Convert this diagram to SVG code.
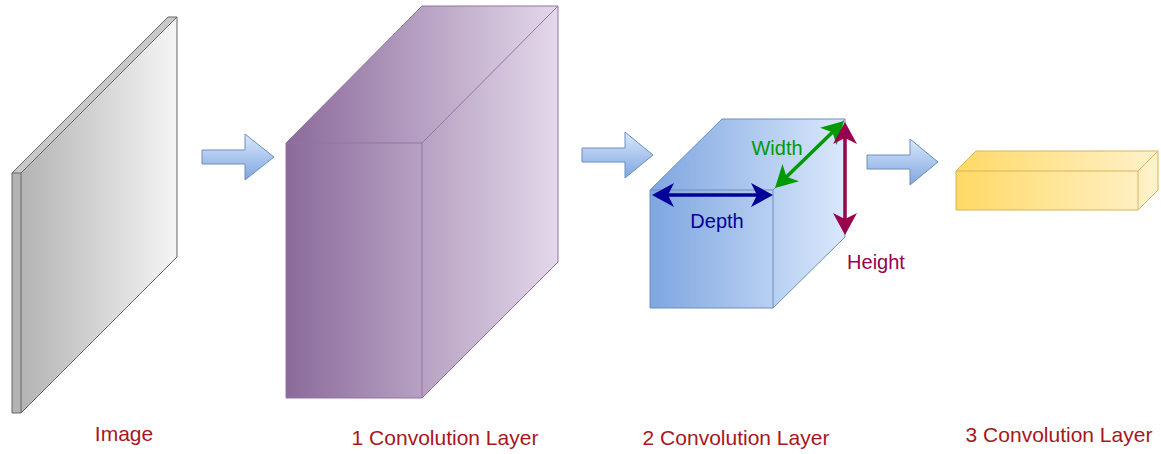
<svg xmlns="http://www.w3.org/2000/svg" width="1161" height="454" viewBox="0 0 1161 454">
  <style>
    .label { font-family: "Liberation Sans", Arial, sans-serif; font-size: 21px; fill: #a8161d; text-anchor: middle; }
    .dim { font-family: "Liberation Sans", Arial, sans-serif; font-size: 20px; text-anchor: middle; }
    .edge { fill: none; stroke-linejoin: round; }
    .flow { stroke: #6c8ebf; stroke-width: 1; fill: url(#flowFill); }
    .measure { fill: none; stroke-width: 3.5; }
  </style>
  <defs>
    <linearGradient id="grayFill" gradientUnits="userSpaceOnUse" x1="12" y1="0" x2="177" y2="0">
      <stop offset="0" stop-color="#b0b0b0"/>
      <stop offset="1" stop-color="#f5f5f5"/>
    </linearGradient>
    <linearGradient id="purpleFill" gradientUnits="userSpaceOnUse" x1="286" y1="0" x2="558" y2="0">
      <stop offset="0" stop-color="#8a6a9a"/>
      <stop offset="1" stop-color="#e3d8ea"/>
    </linearGradient>
    <linearGradient id="blueFill" gradientUnits="userSpaceOnUse" x1="650" y1="0" x2="845" y2="0">
      <stop offset="0" stop-color="#7ea6e0"/>
      <stop offset="1" stop-color="#dae8fc"/>
    </linearGradient>
    <linearGradient id="yellowFill" gradientUnits="userSpaceOnUse" x1="956" y1="0" x2="1158" y2="0">
      <stop offset="0" stop-color="#ffd966"/>
      <stop offset="1" stop-color="#fff2cc"/>
    </linearGradient>
    <linearGradient id="flowFill" x1="0" y1="0" x2="0" y2="1">
      <stop offset="0" stop-color="#dae8fc"/>
      <stop offset="1" stop-color="#7ea6e0"/>
    </linearGradient>
    <!-- classic open-notched arrowheads for the dimension lines -->
    <marker id="headNavy" viewBox="0 0 22 24" refX="17" refY="12" markerWidth="22" markerHeight="24" markerUnits="userSpaceOnUse" orient="auto-start-reverse">
      <path d="M0,0 L22,12 L0,24 L6,12 Z" fill="#000099"/>
    </marker>
    <marker id="headGreen" viewBox="0 0 22 24" refX="17" refY="12" markerWidth="22" markerHeight="24" markerUnits="userSpaceOnUse" orient="auto-start-reverse">
      <path d="M0,0 L22,12 L0,24 L6,12 Z" fill="#009900"/>
    </marker>
    <marker id="headMaroon" viewBox="0 0 22 24" refX="17" refY="12" markerWidth="22" markerHeight="24" markerUnits="userSpaceOnUse" orient="auto-start-reverse">
      <path d="M0,0 L22,12 L0,24 L6,12 Z" fill="#99004d"/>
    </marker>
  </defs>

  <rect width="1161" height="454" fill="#ffffff"/>

  <!-- input image slab -->
  <g id="image">
    <polygon points="12,173 168,17 177,17 177,257 21,413 12,413" fill="url(#grayFill)"/>
    <polygon points="12,173 21,173 21,413 12,413" fill="#b3b3b3"/>
    <polygon points="12,173 168,17 177,17 21,173" fill="#c9c9c9"/>
    <polygon points="12,173 168,17 177,17 177,257 21,413 12,413" class="edge" stroke="#666666" stroke-width="1"/>
    <polyline points="12,173 21,173 177,17" class="edge" stroke="#666666" stroke-width="1"/>
    <line x1="21" y1="173" x2="21" y2="413" stroke="#666666" stroke-width="1"/>
    <text class="label" x="124" y="441">Image</text>
  </g>

  <!-- first convolution volume -->
  <g id="conv1">
    <polygon points="286,143 422,6 558,6 558,262 422,398 286,398" fill="url(#purpleFill)" stroke="#9673a6" stroke-width="1"/>
    <polyline points="286,143 422,143 558,6" class="edge" stroke="#9673a6" stroke-width="1"/>
    <line x1="422" y1="143" x2="422" y2="398" stroke="#9673a6" stroke-width="1"/>
    <text class="label" x="445" y="445">1 Convolution Layer</text>
  </g>

  <!-- second convolution volume with its dimensions -->
  <g id="conv2">
    <polygon points="650,190 722,119 845,119 845,237 773,308 650,308" fill="url(#blueFill)" stroke="#6c8ebf" stroke-width="1"/>
    <polyline points="650,190 773,190 845,119" class="edge" stroke="#6c8ebf" stroke-width="1"/>
    <line x1="773" y1="190" x2="773" y2="308" stroke="#6c8ebf" stroke-width="1"/>
    <text class="label" x="736" y="445">2 Convolution Layer</text>
  </g>

  <g id="depth">
    <line x1="657" y1="195" x2="768" y2="195" class="measure" stroke="#000099" marker-start="url(#headNavy)" marker-end="url(#headNavy)"/>
    <text class="dim" x="717" y="228" fill="#000099">Depth</text>
  </g>
  <g id="width">
    <line x1="778.6" y1="184.5" x2="840.4" y2="124.5" class="measure" stroke="#009900" marker-start="url(#headGreen)" marker-end="url(#headGreen)"/>
    <text class="dim" x="777" y="155" fill="#009900">Width</text>
  </g>
  <g id="height">
    <line x1="845" y1="127" x2="845" y2="230" class="measure" stroke="#99004d" marker-start="url(#headMaroon)" marker-end="url(#headMaroon)"/>
    <text class="dim" x="876" y="269" fill="#99004d">Height</text>
  </g>

  <!-- third convolution volume -->
  <g id="conv3">
    <polygon points="956,171 976,151 1158,151 1158,190 1138,210 956,210" fill="url(#yellowFill)" stroke="#d6b656" stroke-width="1"/>
    <polyline points="956,171 1138,171 1158,151" class="edge" stroke="#d6b656" stroke-width="1"/>
    <line x1="1138" y1="171" x2="1138" y2="210" stroke="#d6b656" stroke-width="1"/>
    <text class="label" x="1059" y="442">3 Convolution Layer</text>
  </g>

  <!-- flow arrows between stages -->
  <g id="connectors">
    <path class="flow" d="M202,150 H245 V134 L274,157 L245,180 V164 H202 Z"/>
    <path class="flow" d="M582,148 H625 V132 L653,155 L625,178 V162 H582 Z"/>
    <path class="flow" d="M867,155 H910 V139 L938,162 L910,185 V169 H867 Z"/>
  </g>
</svg>
